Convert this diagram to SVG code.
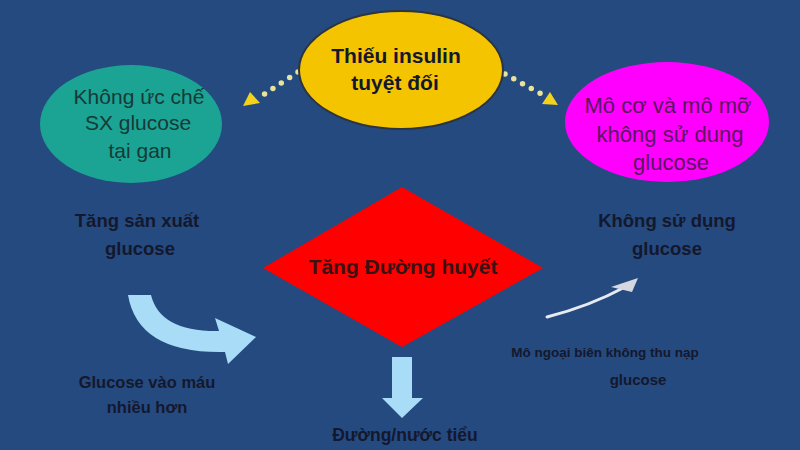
<svg xmlns="http://www.w3.org/2000/svg" width="800" height="450" viewBox="0 0 800 450">
<style>
text{font-family:"Liberation Sans","Noto Sans",sans-serif;text-anchor:middle}
.b{font-weight:bold}
.dk{fill:#14182c}
.dot{stroke:#e6e39a;stroke-width:5.5;stroke-linecap:round;stroke-dasharray:0 10;fill:none}
.tri{fill:#f2d21a}
.blue{fill:#a9dcf6}
</style>
<rect width="800" height="450" fill="#244a80"/>
<g id="connectors">
<path class="dot" d="M298,72 L260,97"/>
<polygon class="tri" points="243,106 250,92 260,103"/>
<path class="dot" d="M505,74 L545,96"/>
<polygon class="tri" points="558,105 542,104 550,92"/>
<path id="curve-left" class="blue" d="M128,295 L151,295 Q160,332 219,331 L215,318 L256,337 L228,364 L225,352 Q138,354 128,295 Z"/>
<path id="down-arrow" class="blue" d="M392,357 L412,357 L412,398 L423,398 L402,418 L382,398 L392,398 Z"/>
<path id="curve-right" d="M547,317 Q590,306 625,287" fill="none" stroke="#e8eaf2" stroke-width="3" stroke-linecap="round"/>
<polygon fill="#d6d8e0" points="638,278 611,287 632,292"/>
</g>
<g id="node-insulin">
<ellipse cx="401" cy="70" rx="102" ry="59" fill="#f5c400" stroke="#2c3440" stroke-width="2"/>
<text x="396" y="63" class="b dk" font-size="21">Thiếu insulin</text>
<text x="395" y="90" class="b dk" font-size="21">tuyệt đối</text>
</g>
<g id="node-gan">
<ellipse cx="131" cy="124" rx="91" ry="59" fill="#1ba394"/>
<text x="139" y="104" font-size="21" fill="#163a36">Không ức chế</text>
<text x="138" y="130" font-size="21" fill="#163a36">SX glucose</text>
<text x="140" y="158" font-size="21" fill="#163a36">tại gan</text>
</g>
<g id="node-mo">
<ellipse cx="667" cy="122" rx="102" ry="60" fill="#ff00ff"/>
<text x="668" y="113" font-size="22" fill="#5a1660">Mô cơ và mô mỡ</text>
<text x="670" y="142" font-size="22" fill="#5a1660">không sử dung</text>
<text x="671" y="170" font-size="22" fill="#5a1660">glucose</text>
</g>
<g id="node-duong-huyet">
<polygon points="402,187 543,268 402,347 263,268" fill="#ff0000"/>
<text x="403" y="274" class="b" font-size="21" fill="#3a1214">Tăng Đường huyết</text>
</g>
<g id="label-tang-san-xuat">
<text x="137" y="227" class="b dk" font-size="18.5">Tăng sản xuất</text>
<text x="140" y="255" class="b dk" font-size="18.5">glucose</text>
</g>
<g id="label-khong-su-dung">
<text x="667" y="227" class="b dk" font-size="18.5">Không sử dụng</text>
<text x="667" y="255" class="b dk" font-size="18.5">glucose</text>
</g>
<g id="label-glucose-vao-mau">
<text x="147" y="388" class="b dk" font-size="16.5">Glucose vào máu</text>
<text x="147" y="413" class="b dk" font-size="16.5">nhiều hơn</text>
</g>
<g id="label-nuoc-tieu">
<text x="405" y="441" class="b dk" font-size="17.5">Đường/nước tiểu</text>
</g>
<g id="label-mo-ngoai-bien">
<text x="605" y="357" class="b dk" font-size="13.5">Mô ngoại biên không thu nạp</text>
<text x="638" y="385" class="b dk" font-size="15">glucose</text>
</g>
</svg>
